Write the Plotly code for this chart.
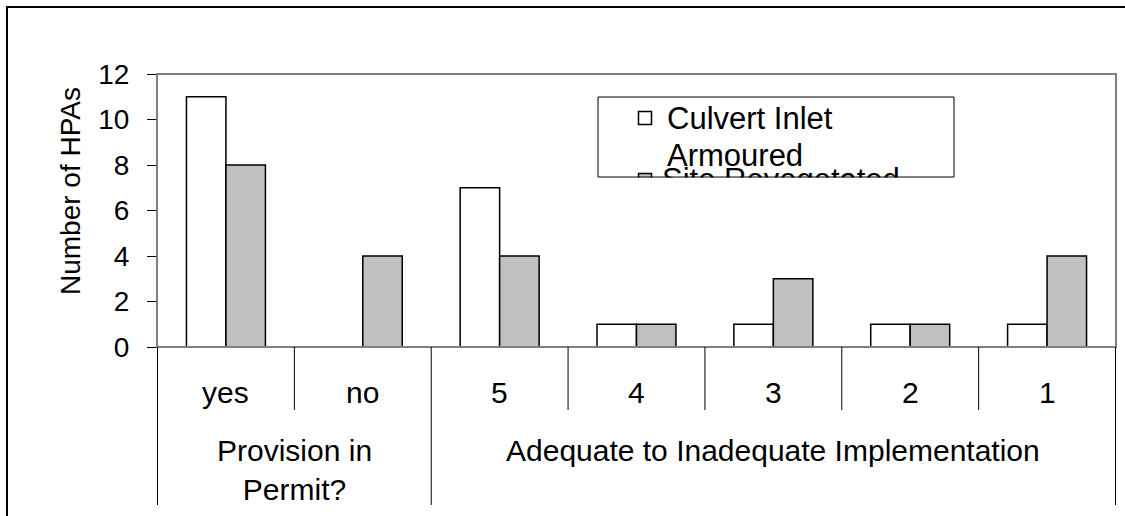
import plotly.graph_objects as go

W, H = 1125, 516

categories = ["yes", "no", "5", "4", "3", "2", "1"]
culvert_inlet_armoured = [11, 0, 7, 1, 1, 1, 1]
site_revegetated = [8, 4, 4, 1, 3, 1, 4]
series_names = ["Culvert Inlet Armoured", "Site Revegetated"]
legend_lines = ["Culvert Inlet", "Armoured", "Site Revegetated"]
group_labels = ["Provision in<br>Permit?", "Adequate to Inadequate Implementation"]
group_spans = [(0, 1), (2, 6)]
y_title = "Number of HPAs"
y_ticks = [0, 2, 4, 6, 8, 10, 12]

FONT = "Liberation Sans, Arial, sans-serif"
FS_TICK = 28
FS_TITLE = 28
FS_CAT = 30
FS_LEG = 31

# plot area in pixels
PL, PR, PT, PB = 157, 1116, 74, 347

fig = go.Figure()
fig.add_trace(go.Bar(x=categories, y=culvert_inlet_armoured, name=series_names[0],
                     marker=dict(color="white", line=dict(color="black", width=1.5)),
                     showlegend=False))
fig.add_trace(go.Bar(x=categories, y=site_revegetated, name=series_names[1],
                     marker=dict(color="#C0C0C0", line=dict(color="black", width=1.5)),
                     showlegend=False))

# legend items drawn on a pixel overlay so the clipped entry can be reproduced
fig.add_trace(go.Scatter(x=[645, 645], y=[118, 180], xaxis="x2", yaxis="y2", mode="markers",
                         marker=dict(symbol="square", size=13, color=["white", "#C0C0C0"],
                                     line=dict(color="black", width=1.5)),
                         showlegend=False, hoverinfo="skip", cliponaxis=False))
fig.add_trace(go.Scatter(x=[662], y=[182], xaxis="x2", yaxis="y2", mode="text",
                         text=[legend_lines[2]], textposition="middle right",
                         textfont=dict(family=FONT, size=FS_LEG, color="black"),
                         showlegend=False, hoverinfo="skip", cliponaxis=False))

shapes = []
# cover for clipped legend part
shapes.append(dict(type="rect", xref="x2", yref="y2", x0=599, x1=953, y0=177.5, y1=212,
                   fillcolor="white", line=dict(width=0), layer="above"))
# legend box
shapes.append(dict(type="rect", xref="x2", yref="y2", x0=598, x1=954, y0=97, y1=177,
                   line=dict(color="black", width=1), layer="above"))
# plot area border
shapes.append(dict(type="rect", xref="x domain", yref="y domain", x0=0, x1=1, y0=0, y1=1,
                   line=dict(color="#808080", width=2), layer="above"))
# category dividers
n = len(categories)
long_div = {-0.5, 1.5, n - 0.5}
for i in range(n + 1):
    xb = i - 0.5
    shapes.append(dict(type="line", xref="x", yref="y2", x0=xb, x1=xb, y0=PB,
                       y1=505 if xb in long_div else 410,
                       line=dict(color="black", width=1), layer="above"))
# outer border (top and left)
shapes.append(dict(type="path", xref="x2", yref="y2", path="M 7 516 L 7 7 L 1125 7",
                   line=dict(color="black", width=2), layer="above"))

annotations = []
for i, c in enumerate(categories):
    annotations.append(dict(x=i, xref="x", y=392, yref="y2", text=c, showarrow=False,
                            font=dict(family=FONT, size=FS_CAT, color="black"),
                            xanchor="center", yanchor="middle"))
for lab, (a, b) in zip(group_labels, group_spans):
    two = "<br>" in lab
    annotations.append(dict(x=(a + b) / 2, xref="x", y=432 if two else 450, yref="y2",
                            text=lab, showarrow=False,
                            font=dict(family=FONT, size=FS_CAT, color="black"),
                            xanchor="center", yanchor="top" if two else "middle"))
annotations.append(dict(x=70, xref="x2", y=191, yref="y2", text=y_title, textangle=-90,
                        showarrow=False, font=dict(family=FONT, size=FS_TITLE, color="black"),
                        xanchor="center", yanchor="middle"))
# legend text (first entry, wrapped)
for txt, yy in zip(legend_lines[:2], [118, 155]):
    annotations.append(dict(x=665, xref="x2", y=yy, yref="y2", text=txt,
                            showarrow=False, font=dict(family=FONT, size=FS_LEG, color="black"),
                            xanchor="left", yanchor="middle"))

fig.update_layout(
    template="none",
    width=W, height=H,
    margin=dict(l=0, r=0, t=0, b=0, pad=0, autoexpand=False),
    paper_bgcolor="white", plot_bgcolor="rgba(0,0,0,0)",
    barmode="group", bargap=0.423, bargroupgap=0,
    font=dict(family=FONT, size=FS_TICK, color="black"),
    xaxis=dict(type="category", domain=[PL / W, PR / W], showticklabels=False, ticks="",
               showline=True, linecolor="black", linewidth=1, showgrid=False,
               zeroline=False, fixedrange=True, automargin=False),
    yaxis=dict(domain=[1 - PB / H, 1 - PT / H], range=[0, 12], tickvals=y_ticks,
               ticks="outside", ticklen=9, tickcolor="black", tickwidth=1,
               showline=True, linecolor="black", linewidth=1, showgrid=False,
               zeroline=False, ticklabelstandoff=12, automargin=False,
               tickfont=dict(family=FONT, size=FS_TICK, color="black"), fixedrange=True),
    xaxis2=dict(domain=[0, 1], range=[0, W], anchor="y2", visible=False, fixedrange=True,
                automargin=False),
    yaxis2=dict(domain=[0, 1], range=[H, 0], anchor="x2", visible=False, fixedrange=True,
                automargin=False),
    shapes=shapes, annotations=annotations,
    showlegend=False,
)

fig.write_html("out.html")
